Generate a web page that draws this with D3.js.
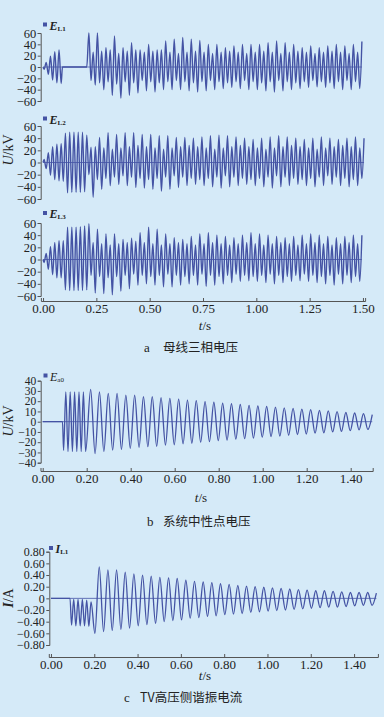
<!DOCTYPE html>
<html>
<head>
<meta charset="utf-8">
<script src="https://cdn.jsdelivr.net/npm/d3@7"></script>
<style>
  body { margin: 0; background: #ffffff; }
  svg { display: block; }
  .tick text { font-family: "Liberation Serif", serif; fill: #222; }
  .domain, .tick line { stroke: #555; }
  .lbl { font-family: "Liberation Serif", serif; fill: #222; }
  .cap { font-family: "Noto Sans CJK SC", sans-serif; fill: #222; }
</style>
</head>
<body>
<svg id="chart" width="388" height="717"></svg>
<script>
// ---------- data ----------
// a) bus phase voltages (kV)
// before the fault cleared: 50 Hz extrema, one every 0.01 s from t = 0.005 s
const l1Pre = [-4, 8, -13, 19, -23, 27, -28, 30, -29];
const l2Pre = [5, -10, 16, -21, 26, -28, 30, -30, 31, -31,
               48, -50, 50, -49, 50, -49, 50, -49, 50, -48,
               45, -20];
const l3Pre = [-5, 10, -16, 21, -25, 28, -30, 31, -30, 31,
               -50, 53, -51, 53, -51, 53, -51, 54, -51, 55, -50];
// after: one entry per 25 Hz cycle -> tall peak, tall trough, inner peak / trough
const l1Hi   = [60, 60, 34, 55, 34, 43, 30, 40, 30, 46, 49, 52, 49, 47, 40, 40,
                34, 37, 40, 40, 40, 43, 46, 43, 40, 34, 37, 34, 37, 40, 37, 40, 45];
const l1Lo   = [-32, -40, -50, -55, -50, -46, -42, -44, -40, -40, -40, -42, -44, -42, -40, -38,
                -36, -38, -40, -40, -42, -44, -42, -40, -38, -36, -35, -36, -38, -40, -40, -38];
const l1HiIn = [26, 28, 30, 24, 28, 30, 26, 28, 30, 26, 24, 26, 28, 26, 24, 26,
                28, 26, 24, 26, 28, 26, 24, 26, 28, 26, 24, 26, 28, 26, 24, 26];
const l1LoIn = [-24, -28, -26, -30, -26, -28, -24, -26, -28, -26, -24, -26, -28, -26, -24, -26,
                -28, -26, -24, -26, -28, -26, -24, -26, -28, -26, -24, -26, -28, -26, -24, -26];

const l2Hi   = [25, 41, 49, 46, 49, 49, 46, 46, 44, 44, 41, 41, 40, 42, 44, 45,
                44, 42, 40, 38, 40, 42, 44, 42, 40, 38, 40, 42, 40, 38, 40, 42, 40];
const l2Lo   = [-57, -44, -38, -36, -38, -41, -42, -44, -47, -44, -41, -38, -36, -38, -40, -42,
                -40, -38, -36, -38, -40, -42, -40, -38, -36, -38, -40, -38, -36, -38, -40, -38];
const l2HiIn = [26, 24, 22, 24, 26, 28, 26, 24, 22, 24, 26, 28, 26, 24, 22, 24,
                26, 28, 26, 24, 22, 24, 26, 28, 26, 24, 22, 24, 26, 28, 26, 24];
const l2LoIn = [-28, -26, -24, -22, -24, -26, -28, -26, -24, -22, -24, -26, -28, -26, -24, -22,
                -24, -26, -28, -26, -24, -22, -24, -26, -28, -26, -24, -22, -24, -26, -28, -26];

const l3Hi   = [59, 50, 42, 42, 33, 35, 44, 53, 50, 42, 36, 33, 38, 42, 44, 40,
                38, 36, 40, 44, 42, 40, 38, 36, 38, 40, 42, 40, 38, 36, 38, 40, 40];
const l3Lo   = [-55, -56, -58, -52, -48, -42, -40, -42, -45, -45, -42, -40, -42, -44, -42, -40,
                -38, -36, -35, -36, -38, -40, -38, -36, -35, -36, -38, -40, -42, -40, -38, -36];
const l3HiIn = [28, 26, 24, 26, 28, 30, 28, 26, 24, 26, 28, 26, 24, 26, 28, 26,
                24, 26, 28, 26, 24, 26, 28, 26, 24, 26, 28, 26, 24, 26, 28, 26];
const l3LoIn = [-26, -28, -30, -28, -26, -24, -26, -28, -26, -24, -26, -28, -26, -24, -26, -28,
                -26, -24, -26, -28, -26, -24, -26, -28, -26, -24, -26, -28, -26, -24, -26, -28];

// b) neutral point voltage (kV)
const bFault = [-28, 29, -29, 29, -29, 29, -29, 29, -29, 29, -29]; // from 0.095 s, every 0.01 s
const bHi = [31.5, 29, 27.6, 27.6, 26, 26, 24.4, 24.4, 23.5, 22.8, 22, 21, 20.5, 19.5, 19, 18,
             17.5, 16.8, 16, 15.5, 15, 14.2, 13.5, 13, 12.3, 11.8, 11, 10.5, 9.8, 9, 8.5, 7.8, 7];
const bLo = [-31, -29, -27.6, -27, -26, -25, -24.4, -24, -22.8, -22.5, -21.5, -21, -20, -19.5, -18.5, -18,
             -17, -16.5, -16, -15, -14.5, -14, -13.2, -12.5, -12, -11.2, -10.8, -10, -9.5, -8.8, -8, -7.5];

// c) TV primary current (A)
const cFault = [-0.46, -0.02, -0.47, -0.02, -0.47, -0.02, -0.47, -0.03, -0.48, -0.06];
const cLo = [-0.6, -0.57, -0.55, -0.53, -0.51, -0.47, -0.45, -0.43, -0.40, -0.38, -0.37, -0.34,
             -0.33, -0.31, -0.30, -0.28, -0.27, -0.26, -0.24, -0.23, -0.22, -0.21, -0.20, -0.19,
             -0.18, -0.17, -0.16, -0.15, -0.15, -0.14, -0.13, -0.12, -0.12];
const cHi = [0.54, 0.49, 0.49, 0.45, 0.42, 0.40, 0.38, 0.36, 0.35, 0.34, 0.31, 0.29,
             0.28, 0.27, 0.25, 0.24, 0.22, 0.21, 0.20, 0.19, 0.18, 0.17, 0.16, 0.15,
             0.14, 0.13, 0.13, 0.12, 0.11, 0.10, 0.10, 0.10, 0.09];

const ticksA = [0, 0.25, 0.5, 0.75, 1, 1.25, 1.5];
const ticksBC = [0, 0.2, 0.4, 0.6, 0.8, 1, 1.2, 1.4];
const kvTicksA = [-60, -40, -20, 0, 20, 40, 60];
const kvTicksB = [-40, -30, -20, -10, 0, 10, 20, 30, 40];
const ampTicks = [-0.8, -0.6, -0.4, -0.2, 0, 0.2, 0.4, 0.6, 0.8];

// ---------- helpers ----------
const waveColor = "#4453a4";
const svg = d3.select("#chart");
svg.append("rect").attr("width", 384).attr("height", 717).attr("fill", "#d5eaf8");

const grid = (t0, vals, step = 0.01) => vals.map((v, i) => [t0 + i * step, v]);

// four extrema per 25 Hz cycle, in the given slot order
function cycles(t0, parts, order) {
  const out = [];
  const n = parts.hi.length;
  for (let k = 0; k < n; k++) {
    order.forEach((key, j) => {
      const v = parts[key][k];
      if (v !== undefined) out.push([t0 + k * 0.04 + j * 0.01, v]);
    });
  }
  return out;
}

// alternating peaks/troughs of a single oscillation
function alternate(tHi, hi, tLo, lo, half) {
  const out = hi.map((v, k) => [tHi + k * 2 * half, v]).concat(lo.map((v, k) => [tLo + k * 2 * half, v]));
  return out.sort((a, b) => a[0] - b[0]);
}

function drawWave(x, y, pts, w) {
  const line = d3.line().x(d => x(d[0])).y(d => y(d[1])).curve(d3.curveMonotoneX);
  svg.append("line")
    .attr("x1", x(0)).attr("x2", x(pts[pts.length - 1][0]))
    .attr("y1", y(0)).attr("y2", y(0))
    .attr("stroke", waveColor).attr("stroke-width", 0.8);
  svg.append("path").datum(pts)
    .attr("d", line)
    .attr("fill", "none")
    .attr("stroke", waveColor)
    .attr("stroke-width", w)
    .attr("stroke-linejoin", "round");
}

function yAxis(x0, y, ticks, fmt, size) {
  const g = svg.append("g").attr("transform", `translate(${x0},0)`)
    .call(d3.axisLeft(y).tickValues(ticks).tickFormat(fmt).tickSize(3).tickSizeOuter(3).tickPadding(1.5));
  g.selectAll("text").style("font-size", size + "px");
  return g;
}

function xAxis(y0, x, ticks) {
  const g = svg.append("g").attr("transform", `translate(0,${y0})`)
    .call(d3.axisBottom(x).tickValues(ticks).tickFormat(d3.format(".2f")).tickSize(-3).tickSizeOuter(-3).tickPadding(3));
  g.selectAll("text").style("font-size", "13px");
  return g;
}

function legend(x0, y0, name, sub, bold) {
  svg.append("rect").attr("x", x0).attr("y", y0 - 7).attr("width", 4).attr("height", 4).attr("fill", waveColor);
  const t = svg.append("text").attr("class", "lbl").attr("x", x0 + 6.5).attr("y", y0)
    .style("font-style", "italic").style("font-weight", bold ? "bold" : "normal").style("font-size", "12px");
  t.append("tspan").text(name);
  t.append("tspan").attr("dy", 1).style("font-size", "7px").style("font-style", "normal").text(sub);
}

function yTitle(cx, cy, main, unit, bold) {
  const t = svg.append("text").attr("class", "lbl")
    .attr("transform", `translate(${cx},${cy}) rotate(-90)`)
    .attr("text-anchor", "middle").style("font-size", "14px");
  t.append("tspan").style("font-style", "italic").style("font-weight", bold ? "bold" : "normal").text(main);
  t.append("tspan").text(unit);
}

function xTitle(cx, by) {
  const t = svg.append("text").attr("class", "lbl").attr("x", cx).attr("y", by)
    .attr("text-anchor", "middle").style("font-size", "13px");
  t.append("tspan").style("font-style", "italic").text("t");
  t.append("tspan").text("/s");
}

function caption(xl, xt, by, letter, txt) {
  svg.append("text").attr("class", "lbl").attr("x", xl).attr("y", by).style("font-size", "13px").text(letter);
  svg.append("text").attr("class", "cap").attr("x", xt).attr("y", by).style("font-size", "12.5px").text(txt);
}

// ---------- panel a ----------
const xA = d3.scaleLinear().domain([-0.01, 1.51]).range([40.9, 365.1]);
const yA1 = d3.scaleLinear().domain([-60, 60]).range([101, 33]);
const yA2 = d3.scaleLinear().domain([-60, 60]).range([199, 126]);
const yA3 = d3.scaleLinear().domain([-60, 60]).range([296, 223]);
const kvFmt = d3.format("");

const l1Pts = [[0, 0]].concat(grid(0.005, l1Pre), [[0.091, 0], [0.205, 0]],
  cycles(0.215, { hi: l1Hi, loIn: l1LoIn, hiIn: l1HiIn, lo: l1Lo }, ["hi", "loIn", "hiIn", "lo"]));
const l2Pts = [[0, 0]].concat(grid(0.005, l2Pre),
  cycles(0.225, { hi: l2Hi, lo: l2Lo, hiIn: l2HiIn, loIn: l2LoIn }, ["hi", "lo", "hiIn", "loIn"]));
const l3Pts = [[0, 0]].concat(grid(0.005, l3Pre),
  cycles(0.215, { hi: l3Hi, loIn: l3LoIn, hiIn: l3HiIn, lo: l3Lo }, ["hi", "loIn", "hiIn", "lo"]));

drawWave(xA, yA1, l1Pts, 1.4);
drawWave(xA, yA2, l2Pts, 1.4);
drawWave(xA, yA3, l3Pts, 1.4);
yAxis(40.7, yA1, kvTicksA, kvFmt, 12.5);
yAxis(40.7, yA2, kvTicksA, kvFmt, 12.5);
yAxis(40.7, yA3, kvTicksA, kvFmt, 12.5);
xAxis(301, xA, ticksA);
legend(43, 29.5, "E", "L1", true);
legend(43, 123.5, "E", "L2", true);
legend(43, 218, "E", "L3", true);
yTitle(13, 150, "U", "/kV");
xTitle(205, 330);
caption(144, 163, 352, "a", "母线三相电压");

// ---------- panel b ----------
const xB = d3.scaleLinear().domain([-0.01, 1.5]).range([40.5, 372.7]);
const yB = d3.scaleLinear().domain([-40, 40]).range([462.7, 380.7]);
const bPts = [[0, 0], [0.09, 0]].concat(grid(0.095, bFault), alternate(0.218, bHi, 0.238, bLo, 0.02));
drawWave(xB, yB, bPts, 1.3);
yAxis(40.7, yB, kvTicksB, kvFmt, 11.5);
xAxis(471, xB, ticksBC);
legend(43.5, 380.5, "E", "a0", false);
yTitle(13, 421, "U", "/kV");
xTitle(201, 502);
caption(147, 163, 526, "b", "系统中性点电压");

// ---------- panel c ----------
const xC = d3.scaleLinear().domain([-0.01, 1.51]).range([48.8, 377.9]);
const yC = d3.scaleLinear().domain([-0.8, 0.8]).range([645, 551.7]);
const cPts = [[0, 0], [0.088, 0]].concat(grid(0.095, cFault), alternate(0.223, cHi, 0.203, cLo, 0.02));
drawWave(xC, yC, cPts, 1.3);
yAxis(49.3, yC, ampTicks, d => d === 0 ? "0" : d3.format(".2f")(d), 12);
xAxis(657, xC, ticksBC);
legend(49, 553, "I", "L1", true);
yTitle(13, 598, "I", "/A", true);
xTitle(205, 680);
caption(124, 140, 702, "c", "TV高压侧谐振电流");
</script>
</body>
</html>
